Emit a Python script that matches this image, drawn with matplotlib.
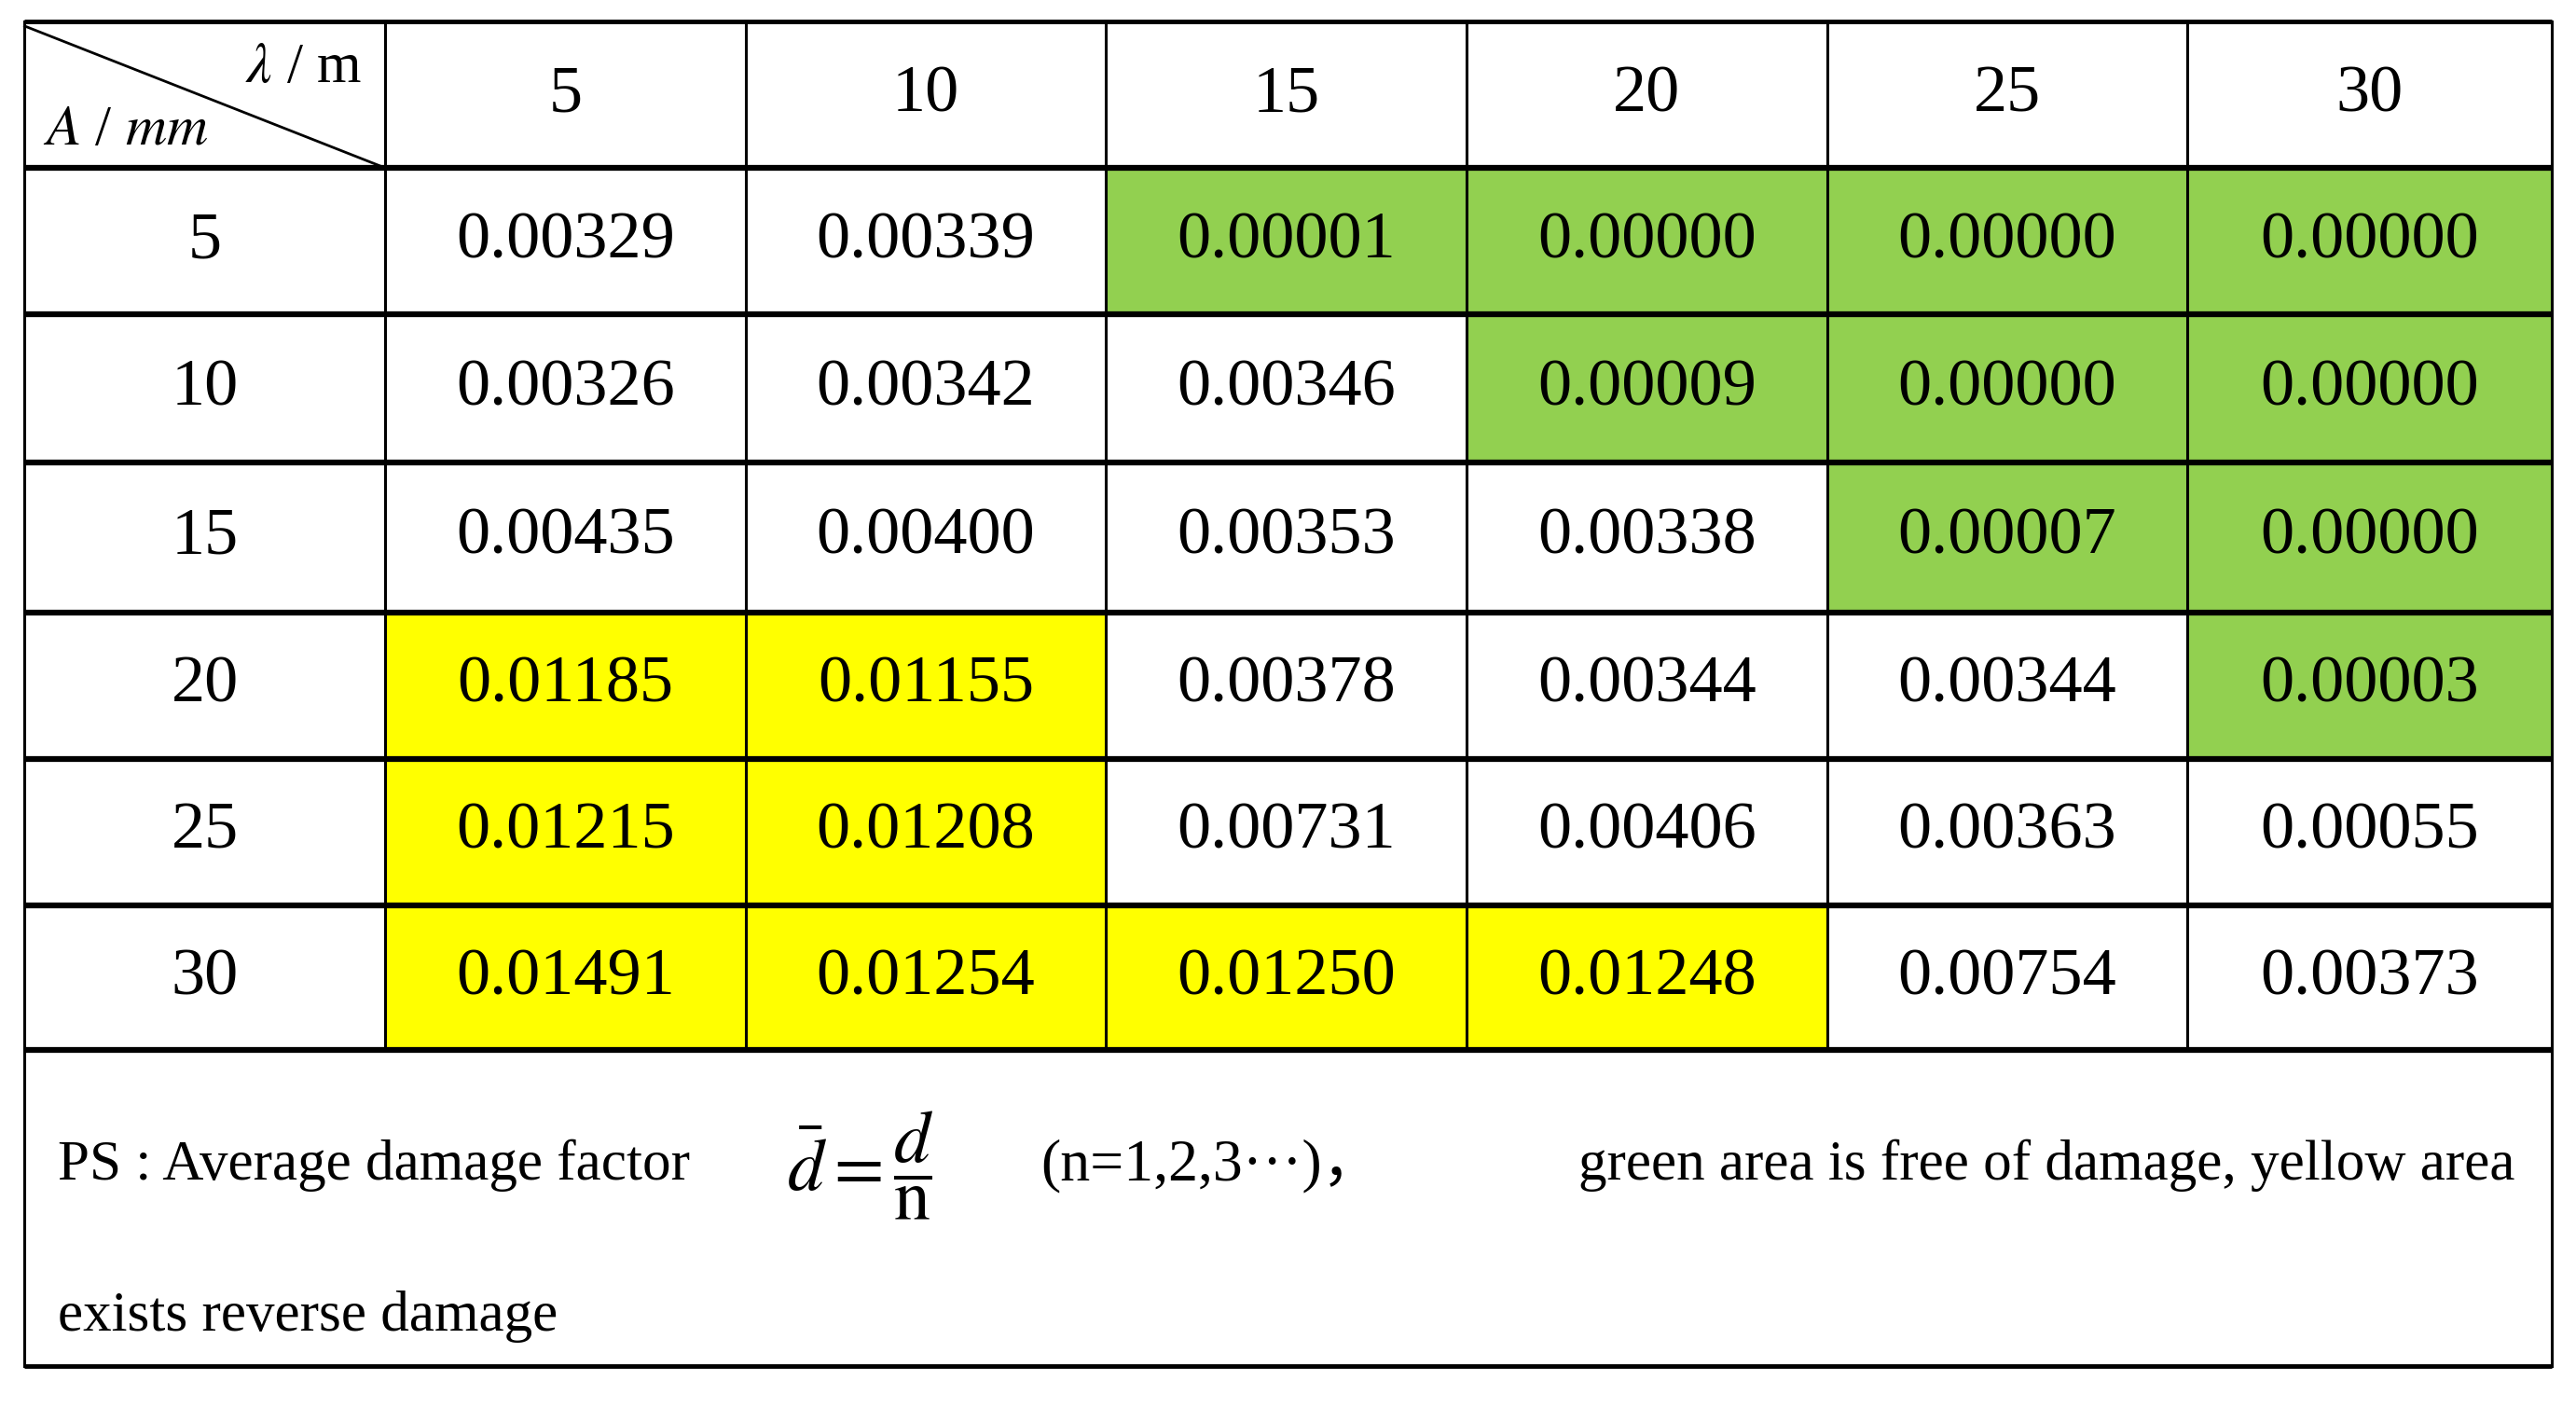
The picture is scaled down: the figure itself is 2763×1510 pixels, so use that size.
import matplotlib
matplotlib.use("Agg")
import matplotlib.pyplot as plt
from matplotlib.patches import Rectangle

wavelengths = ["5", "10", "15", "20", "25", "30"]
amplitudes = ["5", "10", "15", "20", "25", "30"]
values = [
    ["0.00329", "0.00339", "0.00001", "0.00000", "0.00000", "0.00000"],
    ["0.00326", "0.00342", "0.00346", "0.00009", "0.00000", "0.00000"],
    ["0.00435", "0.00400", "0.00353", "0.00338", "0.00007", "0.00000"],
    ["0.01185", "0.01155", "0.00378", "0.00344", "0.00344", "0.00003"],
    ["0.01215", "0.01208", "0.00731", "0.00406", "0.00363", "0.00055"],
    ["0.01491", "0.01254", "0.01250", "0.01248", "0.00754", "0.00373"],
]
# g = green (free of damage), y = yellow (reverse damage), w = white
zones = [
    "wwgggg",
    "wwwggg",
    "wwwwgg",
    "yywwwg",
    "yywwww",
    "yyyyww",
]
zone_colors = {"g": "#92D050", "y": "#FFFF00", "w": "white"}

S = 2763 / 1565
colx = [c * S for c in [15, 234, 453, 672, 891, 1110, 1329, 1550]]
rowy = [r * S for r in [13, 102, 191, 281, 372, 461, 550, 638, 830]]

plt.rcParams["font.family"] = ["Liberation Serif", "DejaVu Serif"]
plt.rcParams["mathtext.fontset"] = "stix"
fig = plt.figure(figsize=(27.63, 15.10), dpi=100)
ax = fig.add_axes([0, 0, 1, 1])
ax.set_xlim(0, 2763)
ax.set_ylim(1510, 0)
ax.axis("off")

fs = 52
for i in range(6):
    for j in range(6):
        x0, x1 = colx[j + 1], colx[j + 2]
        y0, y1 = rowy[i + 1], rowy[i + 2]
        ax.add_patch(Rectangle((x0, y0), x1 - x0, y1 - y0,
                               facecolor=zone_colors[zones[i][j]], edgecolor="none"))
        ax.text((x0 + x1) / 2, (y0 + y1) / 2, values[i][j], ha="center", va="center", fontsize=fs)
    ax.text((colx[0] + colx[1]) / 2, (rowy[i + 1] + rowy[i + 2]) / 2, amplitudes[i],
            ha="center", va="center", fontsize=fs)
for j in range(6):
    ax.text((colx[j + 1] + colx[j + 2]) / 2, (rowy[0] + rowy[1]) / 2, wavelengths[j],
            ha="center", va="center", fontsize=fs)

# header diagonal
ax.plot([colx[0], colx[1]], [rowy[0] + 5, rowy[1]], color="black", lw=2)
ax.text(colx[1] - 25, rowy[0] + 50, r"$\lambda$ / m", ha="right", va="center", fontsize=44)
ax.text(colx[0] + 20, rowy[1] - 40, r"$A$ / $mm$", ha="left", va="center", fontsize=44)

# grid lines
for k, y in enumerate(rowy):
    ax.plot([colx[0], colx[-1]], [y, y], color="black", lw=4.5 if 0 < k < 8 else 3.5,
            solid_capstyle="butt")
for k, x in enumerate(colx):
    ax.plot([x, x], [rowy[0], rowy[7] if 0 < k < 7 else rowy[8]], color="black", lw=2.2)

# footnote
fy = 708 * S
ax.text(35 * S, fy, "PS : Average damage factor", ha="left", va="center", fontsize=44)
ax.text(478 * S, fy, r"$\bar{d}=\dfrac{d}{\mathrm{n}}$", ha="left", va="center", fontsize=56)
ax.text(632 * S, fy, "(n=1,2,3···)，", ha="left", va="center", fontsize=46,
        family=["Liberation Serif", "Noto Sans CJK SC"])
ax.text(1528 * S, fy, "green area is free of damage, yellow area", ha="right", va="center", fontsize=44)
ax.text(35 * S, 800 * S, "exists reverse damage", ha="left", va="center", fontsize=44)

fig.savefig("out.png", dpi=100, facecolor="white")
